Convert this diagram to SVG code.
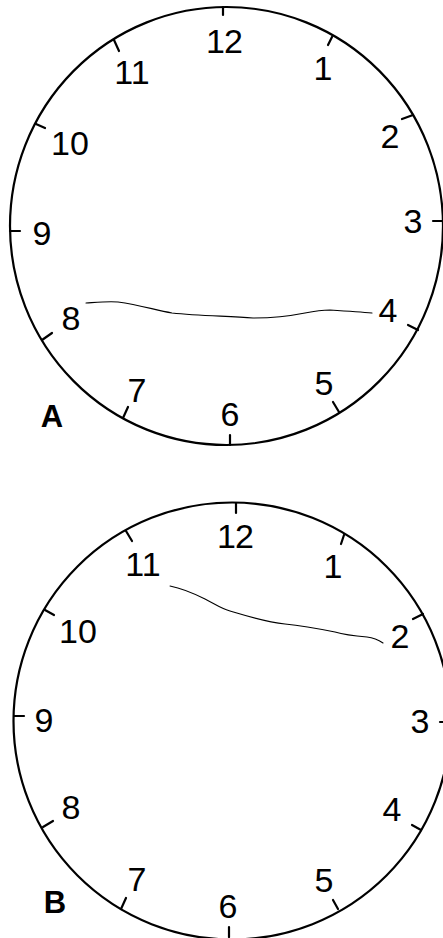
<svg xmlns="http://www.w3.org/2000/svg" width="443" height="938" viewBox="0 0 443 938">
<style>
.face{fill:none;stroke:#000;stroke-width:2.2}
.tick{stroke:#000;stroke-width:2.2;stroke-linecap:round}
.num{font-family:"Liberation Sans",Arial,sans-serif;font-size:34px;fill:#000;text-anchor:middle}
.n12{letter-spacing:-1px}
.lbl{font-family:"Liberation Sans",Arial,sans-serif;font-size:31px;font-weight:bold;fill:#000;text-anchor:middle}
.hand{fill:none;stroke:#000;stroke-width:1.1;stroke-linecap:round;stroke-linejoin:round}
</style>
<rect width="443" height="938" fill="#fff"/>
<g id="clockA">
<ellipse class="face" cx="226.5" cy="226" rx="216.5" ry="219"/>
<g id="ticksA">
<line class="tick" x1="223" y1="7" x2="223" y2="15"/>
<line class="tick" x1="332" y1="37" x2="328" y2="45"/>
<line class="tick" x1="413" y1="115" x2="402" y2="119"/>
<line class="tick" x1="433" y1="221" x2="443" y2="221"/>
<line class="tick" x1="418" y1="330" x2="408" y2="325"/>
<line class="tick" x1="339" y1="412" x2="333" y2="402"/>
<line class="tick" x1="230" y1="445" x2="230" y2="435"/>
<line class="tick" x1="123" y1="418" x2="128" y2="407"/>
<line class="tick" x1="42" y1="340" x2="52" y2="333"/>
<line class="tick" x1="10" y1="231" x2="20" y2="231"/>
<line class="tick" x1="36" y1="124" x2="45" y2="128"/>
<line class="tick" x1="114" y1="40" x2="119" y2="51"/>
</g>
<g id="numsA">
<text class="num n12" x="224" y="53">12</text>
<text class="num" x="323" y="80">1</text>
<text class="num" x="390" y="148">2</text>
<text class="num" x="413" y="233">3</text>
<text class="num" x="388" y="322">4</text>
<text class="num" x="324" y="395">5</text>
<text class="num" x="230" y="426">6</text>
<text class="num" x="137" y="402">7</text>
<text class="num" x="71" y="330">8</text>
<text class="num" x="42" y="245">9</text>
<text class="num" x="70" y="155">10</text>
<text class="num" x="132" y="84">11</text>
</g>
<text id="labelA" class="lbl" x="52" y="427">A</text>
</g>
<g id="clockB">
<circle class="face" cx="232" cy="721" r="218.5"/>
<g id="ticksB">
<line class="tick" x1="236" y1="503" x2="236" y2="513"/>
<line class="tick" x1="344" y1="535" x2="341" y2="544"/>
<line class="tick" x1="423" y1="614" x2="413" y2="619"/>
<line class="tick" x1="440" y1="722" x2="445" y2="722"/>
<line class="tick" x1="421" y1="830" x2="412" y2="825"/>
<line class="tick" x1="338" y1="909" x2="333" y2="900"/>
<line class="tick" x1="229" y1="937" x2="229" y2="927"/>
<line class="tick" x1="121" y1="909" x2="126" y2="898"/>
<line class="tick" x1="43" y1="827" x2="53" y2="821"/>
<line class="tick" x1="14" y1="716" x2="24" y2="716"/>
<line class="tick" x1="45" y1="610" x2="54" y2="615"/>
<line class="tick" x1="126" y1="531" x2="132" y2="541"/>
</g>
<g id="numsB">
<text class="num n12" x="235" y="548">12</text>
<text class="num" x="333" y="578">1</text>
<text class="num" x="400" y="648">2</text>
<text class="num" x="420" y="733">3</text>
<text class="num" x="392" y="821">4</text>
<text class="num" x="324" y="892">5</text>
<text class="num" x="228" y="918">6</text>
<text class="num" x="137" y="891">7</text>
<text class="num" x="71" y="819">8</text>
<text class="num" x="44" y="732">9</text>
<text class="num" x="78" y="643">10</text>
<text class="num" x="143" y="576">11</text>
</g>
<text id="labelB" class="lbl" x="55" y="913">B</text>
</g>
<g id="connectors">
<path class="hand" d="M86,303 C100,302 110,301 118,302 C140,305 155,310 172,313 C200,316 230,316 253,318 C275,318 290,316 305,313 C315,311 322,310 330,310 C345,311 360,312 372,313"/>
<path class="hand" d="M170,586 C185,589 195,594 205,599 C215,604 220,608 230,611 C250,617 265,622 285,624 C305,626 320,629 335,632 C345,635 355,636 367,637 C375,638 380,641 383,643"/>
</g>
</svg>
